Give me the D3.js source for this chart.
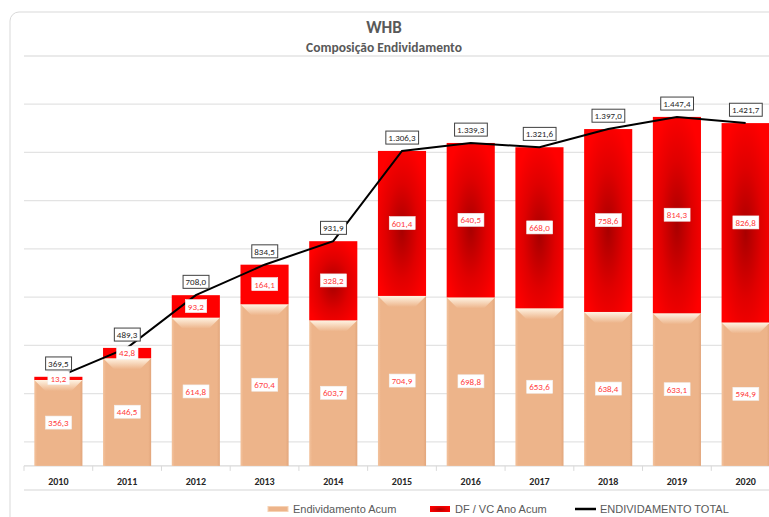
<!DOCTYPE html>
<html>
<head>
<meta charset="utf-8">
<script src="https://cdn.jsdelivr.net/npm/d3@7"></script>
<style>
  body { margin: 0; background: #fff; }
  svg { display: block; font-family: "Carlito", "Open Sans", sans-serif; }
</style>
</head>
<body>
<svg id="chart"></svg>
<script>
const years = ["2010", "2011", "2012", "2013", "2014", "2015", "2016", "2017", "2018", "2019", "2020"];
const endividamentoAcum = [356.3, 446.5, 614.8, 670.4, 603.7, 704.9, 698.8, 653.6, 638.4, 633.1, 594.9];
const dfVcAnoAcum = [13.2, 42.8, 93.2, 164.1, 328.2, 601.4, 640.5, 668.0, 758.6, 814.3, 826.8];
const endividamentoTotal = [369.5, 489.3, 708.0, 834.5, 931.9, 1306.3, 1339.3, 1321.6, 1397.0, 1447.4, 1421.7];
const gridValues = [-100, 100, 300, 500, 700, 900, 1100, 1300, 1500, 1700];
const legendLabels = ["Endividamento Acum", "DF / VC Ano Acum", "ENDIVIDAMENTO TOTAL"];

class DebtChart {
  margin = { top: 56, right: -11, bottom: 27, left: 24 };

  constructor(svg, width = 769, height = 517) {
    this.svg = svg;
    this.width = width;
    this.height = height;
    this.fmt = d3.formatLocale({ decimal: ",", thousands: ".", grouping: [3], currency: ["", ""] }).format(",.1f");
  }

  initialize() {
    this.svg = d3.select(this.svg).attr("width", this.width).attr("height", this.height);

    const defs = this.svg.append("defs");
    const red = defs.append("radialGradient").attr("id", "redGrad")
      .attr("cx", "50%").attr("cy", "55%").attr("r", "60%");
    red.append("stop").attr("offset", "0%").attr("stop-color", "#a80000");
    red.append("stop").attr("offset", "55%").attr("stop-color", "#e00000");
    red.append("stop").attr("offset", "100%").attr("stop-color", "#ff0000");

    const bevel = defs.append("linearGradient").attr("id", "bevelGrad")
      .attr("x1", 0).attr("y1", 0).attr("x2", 0).attr("y2", 1);
    bevel.append("stop").attr("offset", "0%").attr("stop-color", "#fff4e4");
    bevel.append("stop").attr("offset", "100%").attr("stop-color", "#edb48a");

    const side = defs.append("linearGradient").attr("id", "sideGrad")
      .attr("x1", 0).attr("y1", 0).attr("x2", 1).attr("y2", 0);
    side.append("stop").attr("offset", "0%").attr("stop-color", "#f3c39e");
    side.append("stop").attr("offset", "6%").attr("stop-color", "#edb48a");
    side.append("stop").attr("offset", "94%").attr("stop-color", "#edb48a");
    side.append("stop").attr("offset", "100%").attr("stop-color", "#e2a67c");

    // chart area frame
    this.svg.append("rect")
      .attr("x", 10).attr("y", 12)
      .attr("width", 800).attr("height", 540)
      .attr("rx", 9)
      .style("fill", "#fff")
      .style("stroke", "#d9d9d9");

    this.svg.append("text")
      .attr("x", 384).attr("y", 33)
      .attr("text-anchor", "middle")
      .style("font-size", "17px").style("font-weight", "bold").style("fill", "#595959")
      .text("WHB");
    this.svg.append("text")
      .attr("x", 384).attr("y", 52)
      .attr("text-anchor", "middle")
      .style("font-size", "13.5px").style("font-weight", "bold").style("fill", "#595959")
      .text("Composição Endividamento");

    this.xScale = d3.scaleBand()
      .domain(years)
      .range([this.margin.left, this.width - this.margin.right])
      .paddingInner(0.3)
      .paddingOuter(0.15);
    this.yScale = d3.scaleLinear()
      .domain([-100, 1700])
      .range([this.height - this.margin.bottom, this.margin.top]);

    this.grid = this.svg.append("g");
    this.axis = this.svg.append("g");
    this.bars = this.svg.append("g");
    this.line = this.svg.append("g");
    this.labels = this.svg.append("g");
    this.legend = this.svg.append("g");
  }

  update() {
    const x = this.xScale, y = this.yScale;
    const [x0, x1] = x.range();
    const bw = x.bandwidth();

    this.grid.selectAll("line").data(gridValues).join("line")
      .attr("x1", x0).attr("x2", x1)
      .attr("y1", (d) => y(d)).attr("y2", (d) => y(d))
      .style("stroke", "#e3e3e3").style("stroke-width", 1.3);

    // category axis crosses at zero
    const yZero = y(0);
    this.axis.append("line")
      .attr("x1", x0).attr("x2", x1).attr("y1", yZero).attr("y2", yZero)
      .style("stroke", "#d9d9d9").style("stroke-width", 1.3);
    const boundaries = d3.range(years.length + 1).map((i) => x0 + i * x.step());
    this.axis.selectAll(".tick-mark").data(boundaries).join("line")
      .attr("class", "tick-mark")
      .attr("x1", (d) => d).attr("x2", (d) => d)
      .attr("y1", yZero).attr("y2", yZero + 5)
      .style("stroke", "#d9d9d9");
    this.axis.append("g")
      .attr("transform", `translate(0, ${yZero})`)
      .call(d3.axisBottom(x).tickSize(0).tickPadding(12))
      .call((g) => g.select(".domain").remove())
      .call((g) => g.selectAll("text")
        .style("font-family", "Carlito, 'Open Sans', sans-serif")
        .style("font-size", "10px").style("font-weight", "bold").style("fill", "#262626"));

    const data = years.map((yr, i) => ({
      year: yr, base: endividamentoAcum[i], top: dfVcAnoAcum[i], total: endividamentoTotal[i],
    }));

    const g = this.bars.selectAll("g").data(data).join("g")
      .attr("transform", (d) => `translate(${x(d.year)}, 0)`);

    g.append("rect")
      .attr("width", bw)
      .attr("y", (d) => y(d.base))
      .attr("height", (d) => yZero - y(d.base))
      .style("fill", "url(#sideGrad)");
    g.append("polygon")
      .attr("points", (d) => {
        const t = y(d.base);
        return `0,${t} ${bw},${t} ${bw - 11},${t + 11} 11,${t + 11}`;
      })
      .style("fill", "url(#bevelGrad)");
    g.append("rect")
      .attr("width", bw)
      .attr("y", (d) => y(d.total))
      .attr("height", (d) => y(d.base) - y(d.total))
      .style("fill", (d) => (y(d.base) - y(d.total) > 60 ? "url(#redGrad)" : "#ff0000"));

    this.line.append("path")
      .datum(data)
      .attr("d", d3.line().x((d) => x(d.year) + bw / 2).y((d) => y(d.total)))
      .style("fill", "none")
      .style("stroke", "#000")
      .style("stroke-width", 2);

    const addLabel = (cx, cy, text, color, border) => {
      const lg = this.labels.append("g");
      const t = lg.append("text")
        .attr("x", cx).attr("y", cy)
        .attr("text-anchor", "middle")
        .attr("dy", "0.35em")
        .style("font-size", "9px")
        .style("fill", color)
        .text(text);
      const b = t.node().getBBox();
      lg.insert("rect", "text")
        .attr("x", b.x - 2.5).attr("y", b.y - 1)
        .attr("width", b.width + 5).attr("height", b.height + 2)
        .style("fill", "#fff")
        .style("stroke", border ? "#404040" : "#f2f2f2")
        .style("stroke-width", border ? 1 : 0.6);
    };

    data.forEach((d) => {
      const cx = x(d.year) + bw / 2;
      addLabel(cx, (yZero + y(d.base)) / 2, this.fmt(d.base), "#ff3b3b", false);
      addLabel(cx, (y(d.base) + y(d.total)) / 2, this.fmt(d.top), "#ff3b3b", false);
      addLabel(cx, y(d.total) - 13, this.fmt(d.total), "#262626", true);
    });

    // legend
    const ly = 509;
    const items = [
      { x: 268, label: legendLabels[0], kind: "base" },
      { x: 430, label: legendLabels[1], kind: "top" },
      { x: 575, label: legendLabels[2], kind: "line" },
    ];
    const li = this.legend.selectAll("g").data(items).join("g")
      .attr("transform", (d) => `translate(${d.x}, ${ly})`);
    li.filter((d) => d.kind === "base").append("rect")
      .attr("y", -2.5).attr("width", 20).attr("height", 5)
      .style("fill", "#edb48a").style("stroke", "#f6d2b4");
    li.filter((d) => d.kind === "top").append("rect")
      .attr("y", -3).attr("width", 20).attr("height", 6)
      .style("fill", "url(#redGrad)");
    li.filter((d) => d.kind === "line").append("line")
      .attr("x1", 0).attr("x2", 21)
      .style("stroke", "#000").style("stroke-width", 2.5);
    li.append("text")
      .attr("x", (d) => (d.kind === "line" ? 25 : 25))
      .attr("dy", "0.35em")
      .style("font-family", "'Liberation Sans', Arial, sans-serif")
      .style("font-size", "11px")
      .style("fill", "#595959")
      .text((d) => d.label);
  }
}

const chart = new DebtChart(document.getElementById("chart"));
chart.initialize();
chart.update();
</script>
</body>
</html>
